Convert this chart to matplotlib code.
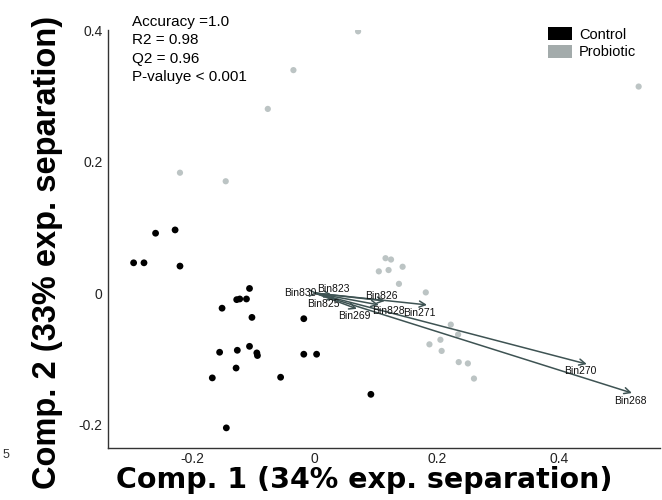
import matplotlib
matplotlib.use("Agg")
import matplotlib.pyplot as plt
from matplotlib.patches import Patch

plt.rcParams['font.family'] = ['Liberation Sans', 'DejaVu Sans']

# ---- data ----
control_x = [-0.297, -0.280, -0.261, -0.229, -0.221, -0.107, -0.128, -0.123, -0.112,
             -0.152, -0.103, -0.018, -0.156, -0.127, -0.107, -0.095, -0.094, -0.129,
             -0.168, -0.056, -0.018, 0.003, -0.145, 0.092]
control_y = [0.046, 0.046, 0.091, 0.096, 0.041, 0.007, -0.010, -0.009, -0.009,
             -0.023, -0.037, -0.039, -0.090, -0.087, -0.081, -0.091, -0.095, -0.114,
             -0.129, -0.128, -0.093, -0.093, -0.205, -0.154]

probiotic_x = [-0.035, -0.077, -0.221, -0.146, 0.071, 0.531, 0.116, 0.125, 0.144,
               0.105, 0.121, 0.138, 0.182, 0.223, 0.235, 0.188, 0.206, 0.208,
               0.236, 0.251, 0.261]
probiotic_y = [0.339, 0.280, 0.183, 0.170, 0.398, 0.314, 0.053, 0.051, 0.040,
               0.033, 0.035, 0.014, 0.001, -0.048, -0.063, -0.078, -0.071, -0.088,
               -0.105, -0.107, -0.130]

bin_names = ["Bin830", "Bin823", "Bin825", "Bin269", "Bin826", "Bin828", "Bin271", "Bin270", "Bin268"]
load_x = [0.004, 0.028, 0.034, 0.069, 0.115, 0.105, 0.184, 0.446, 0.520]
load_y = [0.000, -0.003, -0.009, -0.024, -0.012, -0.018, -0.018, -0.108, -0.152]

group_names = ["Control", "Probiotic"]
stats_text = ["Accuracy =1.0", "R2 = 0.98", "Q2 = 0.96", "P-valuye < 0.001"]
xticks = [-0.2, 0, 0.2, 0.4]
yticks = [-0.2, 0, 0.2, 0.4]

# ---- style ----
col_control = "#000000"
col_prob_pt = "#bcc4c4"
col_prob_leg = "#a3abab"
col_arrow = "#3e5353"

# label offsets in pixels (dx right, dy down) relative to arrow tip
label_off = {"Bin830": (-1, 0, "right"), "Bin823": (2, -6, "center"), "Bin825": (-12, 5, "center"),
             "Bin269": (-2, 7, "center"), "Bin826": (-4, -5, "center"), "Bin828": (10, 6, "center"),
             "Bin271": (-8, 8, "center"), "Bin270": (-6, 7, "center"), "Bin268": (-2, 8, "center")}

fig = plt.figure(figsize=(6.62, 5.0), dpi=100)
ax = fig.add_axes([108/662, 52/500, 552/662, 418/500])

ax.scatter(probiotic_x, probiotic_y, s=20, color=col_prob_pt, edgecolors='none', zorder=2)
ax.scatter(control_x, control_y, s=24, color=col_control, edgecolors='none', zorder=2)

for name, lx, ly in zip(bin_names, load_x, load_y):
    ax.annotate('', xy=(lx, ly), xytext=(0, 0),
                arrowprops=dict(arrowstyle='->', color=col_arrow, lw=1.1,
                                shrinkA=0, shrinkB=0, mutation_scale=11), zorder=3)
    dx, dy, ha = label_off[name]
    ax.annotate(name, xy=(lx, ly), xytext=(dx*0.72, -dy*0.72), textcoords='offset points',
                ha=ha, va='center', fontsize=7.5, color='#111111', zorder=4)

ax.set_xlim(-0.339, 0.566)
ax.set_ylim(-0.2356, 0.3997)
ax.set_xticks(xticks)
ax.set_xticklabels(["-0.2", "0", "0.2", "0.4"])
ax.set_yticks(yticks)
ax.set_yticklabels(["-0.2", "0", "0.2", "0.4"])
ax.tick_params(length=0, labelsize=10, labelcolor='#222222')
ax.tick_params(axis='x', pad=3)
ax.tick_params(axis='y', pad=4)
for s in ['top', 'right']:
    ax.spines[s].set_visible(False)
for s in ['left', 'bottom']:
    ax.spines[s].set_color('#333333')
    ax.spines[s].set_linewidth(1.0)

fig.text(364/662, 1 - 488/500, "Comp. 1 (34% exp. separation)", ha='center', va='baseline',
         fontsize=20.5, fontweight='bold', family='DejaVu Sans')
fig.text(48/662, 1 - 252/500, "Comp. 2 (33% exp. separation)", ha='center', va='center',
         rotation=90, fontsize=23.5, fontweight='bold')

fig.text(132/662, 1 - 15/500, "\n".join(stats_text), ha='left', va='top',
         fontsize=11, linespacing=1.4)

handles = [Patch(facecolor=col_control, edgecolor='none'),
           Patch(facecolor=col_prob_leg, edgecolor='none')]
fig.legend(handles, group_names, loc='upper left', bbox_to_anchor=(538/662, 1 - 17/500),
           frameon=False, fontsize=10.5, handlelength=1.6, handleheight=1.0,
           handletextpad=0.5, labelspacing=0.2, borderpad=0.2)

fig.text(3/662, 1 - 455/500, "5", fontsize=9, color='#333333', va='center')

fig.savefig("out.png", dpi=100)
